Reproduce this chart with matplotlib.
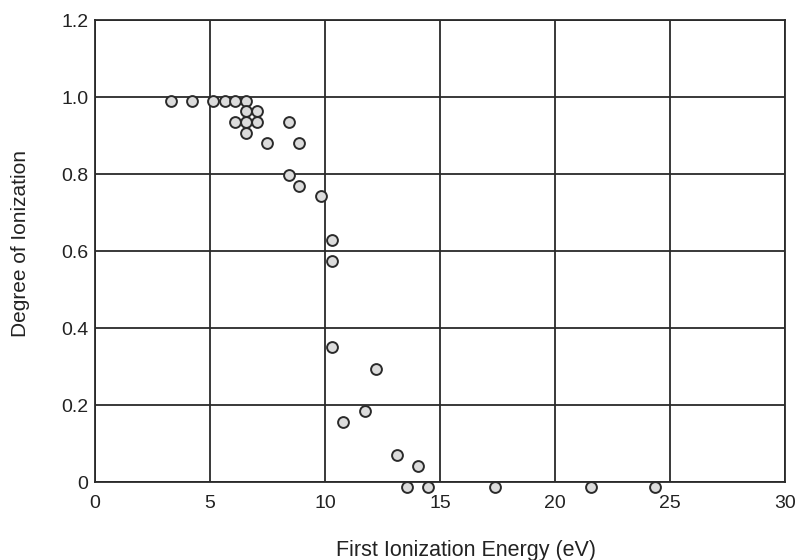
import matplotlib.pyplot as plt

# First ionization energy (eV) vs degree of ionization
energy = [3.3, 4.2, 5.14, 5.64, 6.1, 6.57,
          6.57, 7.03,
          6.1, 6.57, 7.03, 8.42,
          6.57,
          7.49, 8.88,
          8.42, 8.88, 9.82,
          10.3, 10.3, 10.3,
          12.2, 11.72, 10.77,
          13.12, 14.04, 13.56, 14.48,
          17.37, 21.55, 24.35]

ionization = [0.99, 0.99, 0.99, 0.99, 0.99, 0.99,
              0.964, 0.964,
              0.936, 0.936, 0.936, 0.936,
              0.908,
              0.882, 0.882,
              0.797, 0.769, 0.743,
              0.63, 0.575, 0.351,
              0.294, 0.184, 0.156,
              0.071, 0.043, -0.012, -0.012,
              -0.012, -0.012, -0.012]

x_ticks = [0, 5, 10, 15, 20, 25, 30]
y_ticks = [0, 0.2, 0.4, 0.6, 0.8, 1.0, 1.2]
y_labels = ["0", "0.2", "0.4", "0.6", "0.8", "1.0", "1.2"]

plt.rcParams['font.family'] = ['Liberation Sans', 'DejaVu Sans']

fig = plt.figure(figsize=(8.06, 5.6), dpi=100)
ax = fig.add_axes([0.118, 0.139, 0.856, 0.825])

ax.grid(True, color="#2a2a2a", linewidth=1.3)
ax.set_axisbelow(True)

ax.plot(
    energy,
    ionization,
    linestyle="none",
    marker="o",
    markersize=7.8,
    markerfacecolor="#dcdcdc",
    markeredgecolor="#2a2a2a",
    markeredgewidth=1.4,
    clip_on=False,
    zorder=3
)

ax.set_xlim(0, 30)
ax.set_ylim(0, 1.2)
ax.set_xticks(x_ticks)
ax.set_yticks(y_ticks)
ax.set_yticklabels(y_labels)
ax.tick_params(length=0, labelsize=14, colors="#222222")
ax.tick_params(axis="x", pad=9)
ax.tick_params(axis="y", pad=5)

for spine in ax.spines.values():
    spine.set_color("#2a2a2a")
    spine.set_linewidth(1.3)

ax.set_xlabel("First Ionization Energy (eV)", fontsize=15.5, color="#222222")
ax.set_ylabel("Degree of Ionization", fontsize=15, color="#222222")
ax.xaxis.set_label_coords(0.538, -0.125)
ax.yaxis.set_label_coords(-0.095, 0.517)

plt.savefig("out.png", dpi=100)
